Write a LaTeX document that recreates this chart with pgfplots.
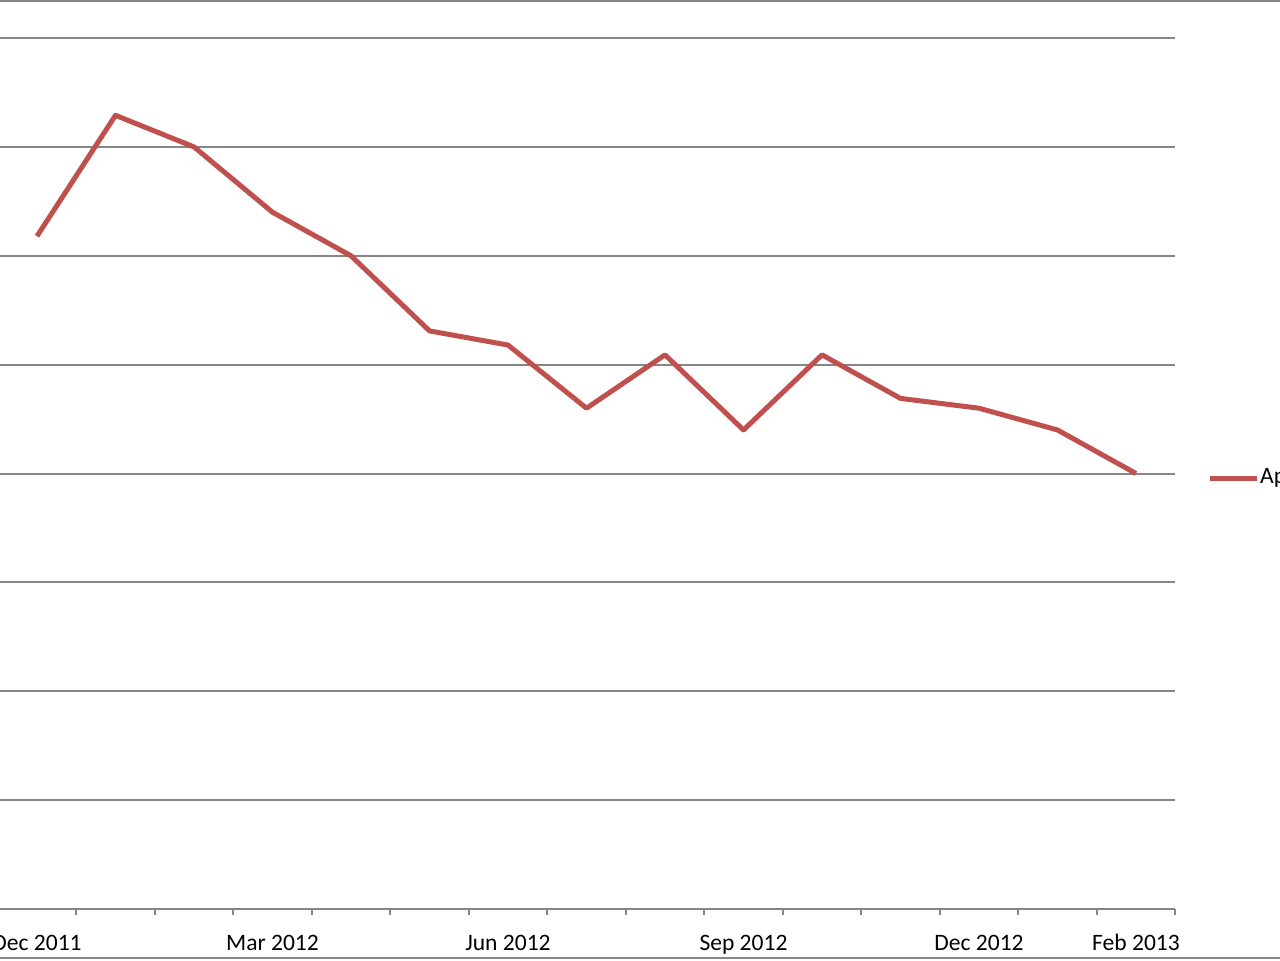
\documentclass[border=0pt]{standalone}
\usepackage{fontspec}
\setmainfont{Carlito}
\usepackage{pgfplots}
\pgfplotsset{compat=1.18}
\definecolor{exred}{RGB}{192,80,77}
\definecolor{exgrid}{RGB}{134,134,134}
\begin{document}
\begin{tikzpicture}
\path[use as bounding box] (0,0) rectangle (128mm,96mm);
\clip (0,0) rectangle (128mm,96mm);
\begin{axis}[
  at={(-0.225mm,5.1mm)}, anchor=south west,
  scale only axis, width=117.75mm, height=87.1mm,
  xmin=-0.5, xmax=14.5, ymin=0, ymax=8,
  axis x line*=bottom, axis y line*=left,
  x axis line style={exgrid, line width=0.2mm, -},
  y axis line style={draw=none},
  xtick={0,3,6,9,12,14},
  xticklabels={Dec 2011,Mar 2012,Jun 2012,Sep 2012,Dec 2012,Feb 2013},
  major x tick style={draw=none},
  minor xtick={-0.5,0.5,...,14.5},
  minor x tick style={exgrid, line width=0.2mm},
  major tick length=0.6mm, minor tick length=0.6mm,
  xtick align=outside,
  xticklabel style={font=\fontsize{6.7}{8}\selectfont, text=black, anchor=base, yshift=-3.5mm},
  ytick={1,...,8}, yticklabels={}, major y tick style={draw=none},
  ymajorgrids, major grid style={exgrid, line width=0.2mm},
  legend style={at={(1.0265,0.4948)}, anchor=west, draw=none, fill=none,
    inner sep=0pt, font=\fontsize{6.7}{8}\selectfont,
    nodes={inner xsep=0.1mm, inner ysep=0.5mm}},
  legend cell align=left,
  legend image code/.code={\draw[#1] (0mm,0mm) -- (4.7mm,0mm);},
]
\addplot[exred, line width=0.5mm, line join=round, mark=none] coordinates {
  (0,6.18) (1,7.29) (2,7.00) (3,6.40) (4,6.00) (5,5.31) (6,5.18) (7,4.60)
  (8,5.09) (9,4.40) (10,5.09) (11,4.69) (12,4.60) (13,4.40) (14,4.00)
};
\addlegendentry{Apple}
\end{axis}
\draw[exgrid, line width=0.2mm] (0,95.9mm) -- (128mm,95.9mm);
\draw[exgrid, line width=0.2mm] (0,0.22mm) -- (128mm,0.22mm);
\end{tikzpicture}
\end{document}
